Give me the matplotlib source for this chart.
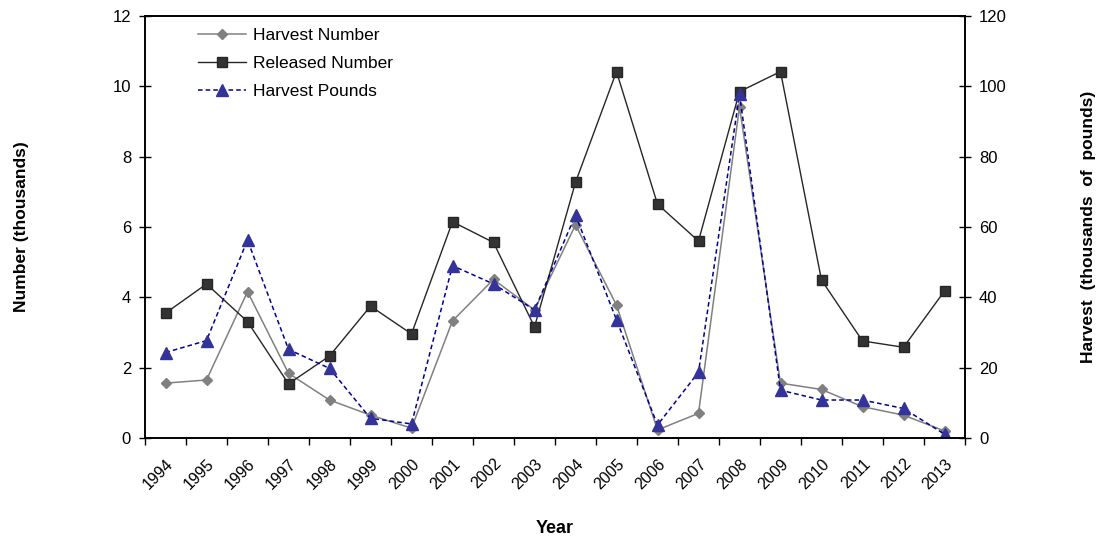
import numpy as np
import matplotlib
matplotlib.use("Agg")
import matplotlib.pyplot as plt

plt.rcParams['font.family'] = ['Liberation Sans', 'DejaVu Sans']

years = [str(y) for y in range(1994, 2014)]

# thousands of fish
harvest_number = [1.56, 1.65, 4.16, 1.84, 1.08, 0.65, 0.28, 3.33, 4.51, 3.64,
                  6.06, 3.78, 0.23, 0.70, 9.42, 1.56, 1.38, 0.89, 0.65, 0.20]
released_number = [3.55, 4.38, 3.31, 1.54, 2.33, 3.75, 2.96, 6.15, 5.56, 3.16,
                   7.27, 10.42, 6.65, 5.60, 9.85, 10.42, 4.49, 2.76, 2.58, 4.18]
# thousands of pounds (right axis)
harvest_pounds = [24.3, 27.7, 56.3, 25.2, 19.8, 5.6, 4.0, 49.0, 43.8, 36.4,
                  63.4, 33.6, 3.7, 18.7, 97.7, 13.6, 10.8, 10.8, 8.4, 1.1]

x = np.arange(len(years))

fig = plt.figure(figsize=(10.96, 5.4), dpi=100)
ax = fig.add_axes([145 / 1096, 1 - 438 / 540, 820 / 1096, 422 / 540])
ax2 = ax.twinx()

l1, = ax.plot(x, harvest_number, color='#808080', lw=1.1, marker='D',
              markersize=5.5, markerfacecolor='#808080', markeredgecolor='#808080')
l2, = ax.plot(x, released_number, color='#262626', lw=1.0, marker='s',
              markersize=7.5, markerfacecolor='#333333', markeredgecolor='#262626')
l3, = ax2.plot(x, harvest_pounds, color='#000099', lw=1.1, ls=(0, (3, 2)),
               marker='^', markersize=8, markerfacecolor='#333399',
               markeredgecolor='#333399')

ax.set_xlim(-0.5, len(years) - 0.5)
ax.set_ylim(0, 12)
ax2.set_ylim(0, 120)
ax.set_yticks(range(0, 13, 2))
ax2.set_yticks(range(0, 121, 20))

ax.set_xticks(x)
ax.set_xticklabels(years, rotation=45, ha='right', rotation_mode='anchor')
ax.set_xticks(np.arange(-0.5, len(years)), minor=True)
ax.tick_params(axis='x', which='major', length=0, pad=13, labelsize=11.5)
ax.tick_params(axis='x', which='minor', length=5, direction='out', width=1)
ax.tick_params(axis='y', direction='inout', length=8, width=1, labelsize=12, pad=6)
ax2.tick_params(axis='y', direction='inout', length=8, width=1, labelsize=12, pad=6)

for a in (ax, ax2):
    for s in a.spines.values():
        s.set_linewidth(1.2)
        s.set_color('black')

ax.set_xlabel('Year', fontsize=13, fontweight='bold')
ax.xaxis.set_label_coords(0.5, -0.194)
ax.set_ylabel('Number (thousands)', fontsize=12.5, fontweight='bold')
ax.yaxis.set_label_coords(-0.142, 0.5)
ax2.set_ylabel('Harvest  (thousands  of  pounds)', fontsize=12.5, fontweight='bold',
               rotation=90)
ax2.yaxis.set_label_coords(1.141, 0.5)

ax.legend([l1, l2, l3], ['Harvest Number', 'Released Number', 'Harvest Pounds'],
          loc='upper left', bbox_to_anchor=(0.045, 1.008), frameon=False,
          handlelength=2.8, labelspacing=0.74, fontsize=12.5, handletextpad=0.4)

fig.savefig('out.png', dpi=100)
